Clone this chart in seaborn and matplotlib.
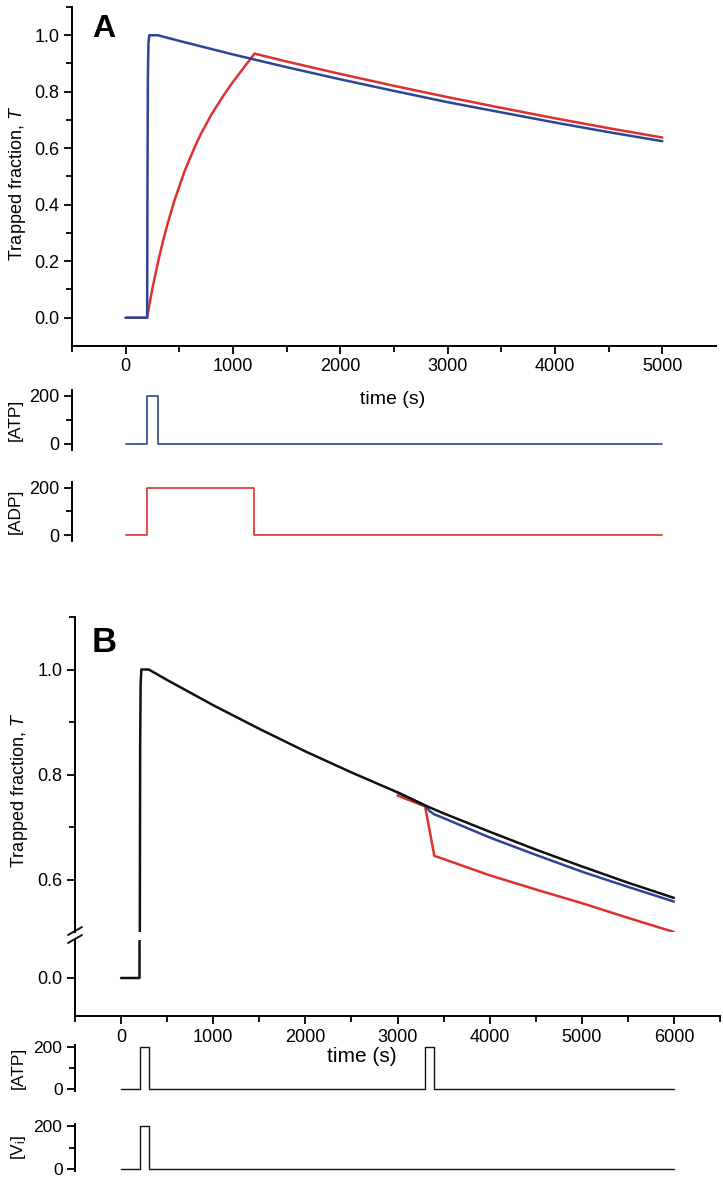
import numpy as np
import pandas as pd
import matplotlib
matplotlib.use("Agg")
import matplotlib.pyplot as plt
from matplotlib.ticker import FixedLocator
from matplotlib.lines import Line2D
import seaborn as sns

# ---------------- data ----------------
# Panel A
a_blue_t = [0, 200, 203, 207, 212, 220, 300, 500, 1000, 1500, 2000, 2500, 3000,
            3500, 4000, 4500, 5000]
a_blue_T = [0.0, 0.0, 0.45, 0.85, 0.97, 1.0, 1.0, 0.980, 0.932, 0.887, 0.844,
            0.803, 0.763, 0.727, 0.691, 0.657, 0.625]
a_red_t = [0, 200, 225, 250, 275, 300, 350, 400, 450, 500, 550, 600, 650, 700,
           750, 800, 850, 900, 950, 1000, 1050, 1100, 1150, 1200,
           1500, 2000, 2500, 3000, 3500, 4000, 4500, 5000]
a_red_T = [0.0, 0.0, 0.055, 0.105, 0.15, 0.195, 0.275, 0.345, 0.41, 0.465, 0.52,
           0.565, 0.61, 0.65, 0.685, 0.72, 0.75, 0.78, 0.808, 0.835, 0.86, 0.885,
           0.91, 0.935, 0.907, 0.863, 0.821, 0.781, 0.743, 0.706, 0.671, 0.638]
a_atp_t = [0, 200, 200, 300, 300, 5000]
a_atp_c = [0, 0, 200, 200, 0, 0]
a_adp_t = [0, 200, 200, 1200, 1200, 5000]
a_adp_c = [0, 0, 200, 200, 0, 0]

# Panel B
b_black_t = [0, 200, 203, 207, 212, 220, 300, 500, 1000, 1500, 2000, 2500, 3000,
             3300, 3500, 4000, 4500, 5000, 5500, 6000]
b_black_T = [0.0, 0.0, 0.45, 0.85, 0.97, 1.0, 1.0, 0.980, 0.932, 0.887, 0.844,
             0.804, 0.766, 0.741, 0.726, 0.691, 0.657, 0.625, 0.594, 0.565]
b_blue_t = [3000, 3300, 3350, 3400, 3500, 4000, 4500, 5000, 5500, 6000]
b_blue_T = [0.766, 0.741, 0.730, 0.724, 0.717, 0.680, 0.647, 0.615, 0.586, 0.558]
b_red_t = [3000, 3300, 3400, 3500, 4000, 4500, 5000, 5500, 6000]
b_red_T = [0.760, 0.739, 0.645, 0.639, 0.608, 0.581, 0.555, 0.527, 0.500]
b_atp_t = [0, 200, 200, 300, 300, 3300, 3300, 3400, 3400, 6000]
b_atp_c = [0, 0, 200, 200, 0, 0, 200, 200, 0, 0]
b_vi_t = [0, 200, 200, 300, 300, 6000]
b_vi_c = [0, 0, 200, 200, 0, 0]

# ---------------- style ----------------
sns.set_style("ticks")
plt.rcParams['font.family'] = ['Liberation Sans', 'DejaVu Sans']
plt.rcParams['mathtext.fontset'] = 'custom'
plt.rcParams['mathtext.rm'] = 'Liberation Sans'
plt.rcParams['mathtext.it'] = 'Liberation Sans:italic'
for k in ['text.color', 'axes.labelcolor', 'xtick.color', 'ytick.color',
          'axes.edgecolor']:
    plt.rcParams[k] = 'black'
NARROW = ['Liberation Sans Narrow', 'Liberation Sans', 'DejaVu Sans']

BLUE = '#2d4596'
RED = '#df3030'
BLACK = '#111111'

W, H = 723, 1180
fig = plt.figure(figsize=(W / 100, H / 100), dpi=100)


def add_ax(left, right, top, bottom):
    return fig.add_axes([left / W, 1 - bottom / H, (right - left) / W, (bottom - top) / H])


def style_ax(ax, bottom=True, narrow=False, fs=13):
    for s in ['top', 'right']:
        ax.spines[s].set_visible(False)
    ax.spines['left'].set_linewidth(1.4)
    ax.spines['bottom'].set_linewidth(1.4)
    if not bottom:
        ax.spines['bottom'].set_visible(False)
        ax.tick_params(axis='x', which='both', bottom=False, labelbottom=False)
    ax.tick_params(which='major', direction='out', length=6, width=1.3,
                   labelsize=fs, pad=3, colors='black')
    ax.tick_params(which='minor', direction='out', length=4, width=1.3, colors='black')
    ax.set_xlabel('')
    ax.set_ylabel('')
    ax.set_facecolor('none')
    if narrow:
        for lab in ax.get_xticklabels() + ax.get_yticklabels():
            lab.set_fontfamily(NARROW)


def line(ax, t, v, color, lw):
    df = pd.DataFrame({'t': t, 'v': v})
    sns.lineplot(data=df, x='t', y='v', ax=ax, color=color, linewidth=lw,
                 sort=False, estimator=None, legend=False)


# ---------------- Panel A ----------------
axA = add_ax(72, 716, 7, 346)
line(axA, a_red_t, a_red_T, RED, 1.8)
line(axA, a_blue_t, a_blue_T, BLUE, 1.8)
axA.set_xlim(-500, 5500)
axA.set_ylim(-0.1, 1.1)
axA.xaxis.set_major_locator(FixedLocator([0, 1000, 2000, 3000, 4000, 5000]))
axA.xaxis.set_minor_locator(FixedLocator([-500, 500, 1500, 2500, 3500, 4500]))
axA.yaxis.set_major_locator(FixedLocator([0.0, 0.2, 0.4, 0.6, 0.8, 1.0]))
axA.yaxis.set_minor_locator(FixedLocator([0.1, 0.3, 0.5, 0.7, 0.9, 1.1]))
axA.set_yticklabels(['0.0', '0.2', '0.4', '0.6', '0.8', '1.0'])
style_ax(axA)

axA1 = add_ax(72, 716, 390, 450)
line(axA1, a_atp_t, a_atp_c, BLUE, 1.2)
axA1.set_xlim(-500, 5500)
axA1.set_ylim(-25, 225)
axA1.yaxis.set_major_locator(FixedLocator([0, 200]))
axA1.yaxis.set_minor_locator(FixedLocator([100]))
style_ax(axA1, bottom=False)

axA2 = add_ax(72, 716, 482, 541)
line(axA2, a_adp_t, a_adp_c, RED, 1.2)
axA2.set_xlim(-500, 5500)
axA2.set_ylim(-25, 225)
axA2.yaxis.set_major_locator(FixedLocator([0, 200]))
axA2.yaxis.set_minor_locator(FixedLocator([100]))
style_ax(axA2, bottom=False)

fig.text(92 / W, 1 - 37 / H, 'A', fontsize=23, fontweight='bold', ha='left', va='baseline')
fig.text(18 / W, 1 - 183 / H, 'Trapped fraction, $\\mathit{T}$', rotation=90,
         fontsize=13, ha='center', va='center')
fig.text(393 / W, 1 - 400 / H, 'time (s)', fontsize=14, ha='center', va='center')
fig.text(15 / W, 1 - 420 / H, '[ATP]', rotation=90, fontsize=12.5, ha='center', va='center')
fig.text(15 / W, 1 - 511 / H, '[ADP]', rotation=90, fontsize=12.5, ha='center', va='center')

# ---------------- Panel B ----------------
axBu = add_ax(75, 720, 617, 932)
axBl = add_ax(75, 720, 940, 1016)
for ax in (axBu, axBl):
    line(ax, b_red_t, b_red_T, RED, 1.8)
    line(ax, b_blue_t, b_blue_T, BLUE, 1.8)
    line(ax, b_black_t, b_black_T, BLACK, 1.8)
    ax.set_xlim(-500, 6500)
axBu.set_ylim(0.5, 1.1)
axBl.set_ylim(-0.073, 0.073)
axBu.yaxis.set_major_locator(FixedLocator([0.6, 0.8, 1.0]))
axBu.yaxis.set_minor_locator(FixedLocator([0.7, 0.9, 1.1]))
axBu.set_yticklabels(['0.6', '0.8', '1.0'])
axBl.yaxis.set_major_locator(FixedLocator([0.0]))
axBl.set_yticklabels(['0.0'])
axBl.xaxis.set_major_locator(FixedLocator([0, 1000, 2000, 3000, 4000, 5000, 6000]))
axBl.xaxis.set_minor_locator(FixedLocator([-500, 500, 1500, 2500, 3500, 4500, 5500, 6500]))
style_ax(axBu, bottom=False, narrow=True, fs=13)
style_ax(axBl, narrow=True, fs=13)

# break marks on the left spine
for yb in (931, 939):
    fig.add_artist(Line2D([(75 - 7) / W, (75 + 7) / W],
                          [1 - (yb + 4) / H, 1 - (yb - 4) / H],
                          color=BLACK, lw=1.4))

axB1 = add_ax(75, 720, 1045, 1091)
line(axB1, b_atp_t, b_atp_c, BLACK, 1.0)
axB1.set_xlim(-500, 6500)
axB1.set_ylim(-10, 210)
axB1.yaxis.set_major_locator(FixedLocator([0, 200]))
axB1.yaxis.set_minor_locator(FixedLocator([100]))
style_ax(axB1, bottom=False, narrow=True, fs=12.5)

axB2 = add_ax(75, 720, 1124, 1171)
line(axB2, b_vi_t, b_vi_c, BLACK, 1.0)
axB2.set_xlim(-500, 6500)
axB2.set_ylim(-10, 210)
axB2.yaxis.set_major_locator(FixedLocator([0, 200]))
axB2.yaxis.set_minor_locator(FixedLocator([100]))
style_ax(axB2, bottom=False, narrow=True, fs=12.5)

fig.text(92 / W, 1 - 652 / H, 'B', fontsize=25, fontweight='bold', ha='left', va='baseline')
fig.text(20 / W, 1 - 790 / H, 'Trapped fraction, $\\mathit{T}$', rotation=90,
         fontsize=13, ha='center', va='center')
fig.text(362 / W, 1 - 1057 / H, 'time (s)', fontsize=15, ha='center', va='center',
         family=NARROW)
fig.text(18 / W, 1 - 1068 / H, '[ATP]', rotation=90, fontsize=12.5, ha='center', va='center')
fig.text(18 / W, 1 - 1147 / H, '[V$_\\mathrm{i}$]', rotation=90, fontsize=12.5,
         ha='center', va='center')

fig.savefig('out.png', dpi=100)
